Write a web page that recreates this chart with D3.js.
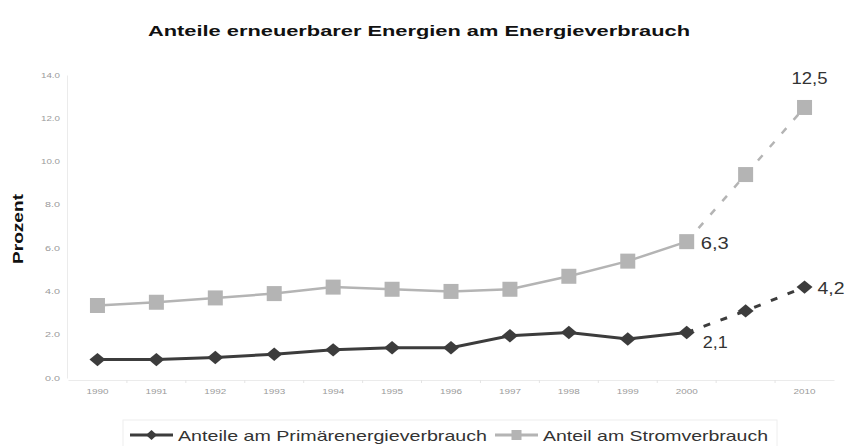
<!DOCTYPE html>
<html>
<head>
<meta charset="utf-8">
<script src="https://cdn.jsdelivr.net/npm/d3@7"></script>
<style>
  body { margin: 0; background: #fff; }
  svg { font-family: "Liberation Sans", Arial, sans-serif; }
</style>
</head>
<body>
<div id="chart"></div>
<script>
// data
var years = ["1990","1991","1992","1993","1994","1995","1996","1997","1998","1999","2000","2005","2010"];
var yearLabels = ["1990","1991","1992","1993","1994","1995","1996","1997","1998","1999","2000","","2010"];
var primaer = [0.85, 0.85, 0.95, 1.1, 1.3, 1.4, 1.4, 1.95, 2.1, 1.8, 2.1, 3.1, 4.2];
var strom = [3.35, 3.5, 3.7, 3.9, 4.2, 4.1, 4.0, 4.1, 4.7, 5.4, 6.3, 9.4, 12.5];
var yTicks = [0, 2, 4, 6, 8, 10, 12, 14];
var seriesNames = ["Anteile am Primärenergieverbrauch", "Anteil am Stromverbrauch"];

var width = 848, height = 446;
var svg = d3.select("#chart").append("svg")
  .attr("width", width)
  .attr("height", height);

var x = d3.scaleBand().domain(years).range([68, 834]).padding(0);
var y = d3.scaleLinear().domain([0, 14]).range([378, 75]);
function cx(d, i) { return x(years[i]) + x.bandwidth() / 2; }

// title (the original font is a wide one, so stretch to its width)
svg.append("text")
  .attr("x", 148).attr("y", 36)
  .attr("textLength", 542).attr("lengthAdjust", "spacingAndGlyphs")
  .style("font-weight", "bold").style("font-size", "15px").style("fill", "#111")
  .text("Anteile erneuerbarer Energien am Energieverbrauch");

// y axis
var yAxis = svg.append("g")
  .attr("transform", "translate(67,0)")
  .call(d3.axisLeft(y).tickValues(yTicks).tickSize(0).tickPadding(7)
    .tickFormat(function(d) { return d.toFixed(1); }));
yAxis.select(".domain").attr("stroke", "#ebebeb");
yAxis.selectAll("text")
  .style("font-size", "6.5px").style("fill", "#9a9a9a").style("font-family", "Liberation Sans, Arial")
  .attr("textLength", function(d) { return d >= 10 ? 19 : 15; })
  .attr("lengthAdjust", "spacingAndGlyphs");

svg.append("text")
  .attr("transform", "translate(23,229) rotate(-90)")
  .attr("text-anchor", "middle")
  .attr("textLength", 70).attr("lengthAdjust", "spacingAndGlyphs")
  .style("font-weight", "bold").style("font-size", "14px").style("fill", "#111")
  .text("Prozent");

// x axis
var xAxis = svg.append("g")
  .attr("transform", "translate(0,380)")
  .call(d3.axisBottom(x).tickSize(0).tickPadding(9)
    .tickFormat(function(d, i) { return yearLabels[i]; }));
xAxis.select(".domain").attr("stroke", "#ebebeb");
xAxis.selectAll("text")
  .style("font-size", "6.5px").style("fill", "#9a9a9a").style("font-family", "Liberation Sans, Arial")
  .attr("textLength", function(d, i) { return yearLabels[i] ? 22 : null; })
  .attr("lengthAdjust", "spacingAndGlyphs");
xAxis.selectAll(".sep")
  .data(years.slice(1))
  .enter().append("line")
  .attr("x1", function(d) { return x(d); }).attr("x2", function(d) { return x(d); })
  .attr("y1", 0).attr("y2", 3)
  .attr("stroke", "#e4e4e4");

function drawSeries(vals, color, w, dash) {
  // solid up to 2000, dashed for the 2005 / 2010 targets
  svg.append("path")
    .datum(vals)
    .attr("d", d3.line()
      .defined(function(d, i) { return i <= 10; })
      .x(cx).y(function(d) { return y(d); }))
    .attr("fill", "none").attr("stroke", color).attr("stroke-width", w);
  svg.append("path")
    .datum(vals)
    .attr("d", d3.line()
      .defined(function(d, i) { return i >= 10; })
      .x(cx).y(function(d) { return y(d); }))
    .attr("fill", "none").attr("stroke", color).attr("stroke-width", w)
    .attr("stroke-dasharray", dash);
}

var dark = "#3c3c3c", light = "#b4b4b4";
drawSeries(strom, light, 2.5, "7,11");
drawSeries(primaer, dark, 3, "7,11");

// markers
svg.selectAll(".sq")
  .data(strom)
  .enter().append("rect")
  .attr("class", "sq")
  .attr("x", function(d, i) { return cx(d, i) - 7.5; })
  .attr("y", function(d) { return y(d) - 7.5; })
  .attr("width", 15).attr("height", 15)
  .attr("fill", light);

var diamond = d3.symbol().type(d3.symbolSquare).size(100);
svg.selectAll(".dm")
  .data(primaer)
  .enter().append("path")
  .attr("class", "dm")
  .attr("d", diamond)
  .attr("transform", function(d, i) {
    return "translate(" + cx(d, i) + "," + y(d) + ") scale(1.13,0.95) rotate(45)";
  })
  .attr("fill", dark);

// value labels
function fmt(v) { return v.toFixed(1).replace(".", ","); }
function label(txt, px, py, len) {
  svg.append("text").attr("x", px).attr("y", py)
    .attr("textLength", len).attr("lengthAdjust", "spacingAndGlyphs")
    .style("font-size", "16px").style("fill", "#333")
    .text(txt);
}
label(fmt(strom[10]), cx(0, 10) + 14, y(strom[10]) + 7, 28);
label(fmt(primaer[10]), cx(0, 10) + 16, y(primaer[10]) + 15, 25);
label(fmt(primaer[12]), cx(0, 12) + 13, y(primaer[12]) + 7, 27);
label(fmt(strom[12]), cx(0, 12) - 13, y(strom[12]) - 23, 36);

// legend
var leg = svg.append("g");
leg.append("rect")
  .attr("x", 123).attr("y", 420).attr("width", 654).attr("height", 40)
  .attr("fill", "none").attr("stroke", "#eeeeee");
var legItems = [
  { name: seriesNames[0], color: dark, x0: 130, x1: 173, tx: 178, len: 309, type: "d" },
  { name: seriesNames[1], color: light, x0: 495, x1: 538, tx: 543, len: 225, type: "s" }
];
legItems.forEach(function(it) {
  leg.append("line").attr("x1", it.x0).attr("x2", it.x1).attr("y1", 435).attr("y2", 435)
    .attr("stroke", it.color).attr("stroke-width", 3);
  var mx = (it.x0 + it.x1) / 2;
  if (it.type === "d") {
    leg.append("path").attr("d", d3.symbol().type(d3.symbolSquare).size(50))
      .attr("transform", "translate(" + mx + ",435) scale(1.1,1) rotate(45)").attr("fill", it.color);
  } else {
    leg.append("rect").attr("x", mx - 5).attr("y", 430).attr("width", 10).attr("height", 10).attr("fill", it.color);
  }
  leg.append("text").attr("x", it.tx).attr("y", 441)
    .attr("textLength", it.len).attr("lengthAdjust", "spacingAndGlyphs")
    .style("font-size", "15px").style("fill", "#333").text(it.name);
});
</script>
</body>
</html>
